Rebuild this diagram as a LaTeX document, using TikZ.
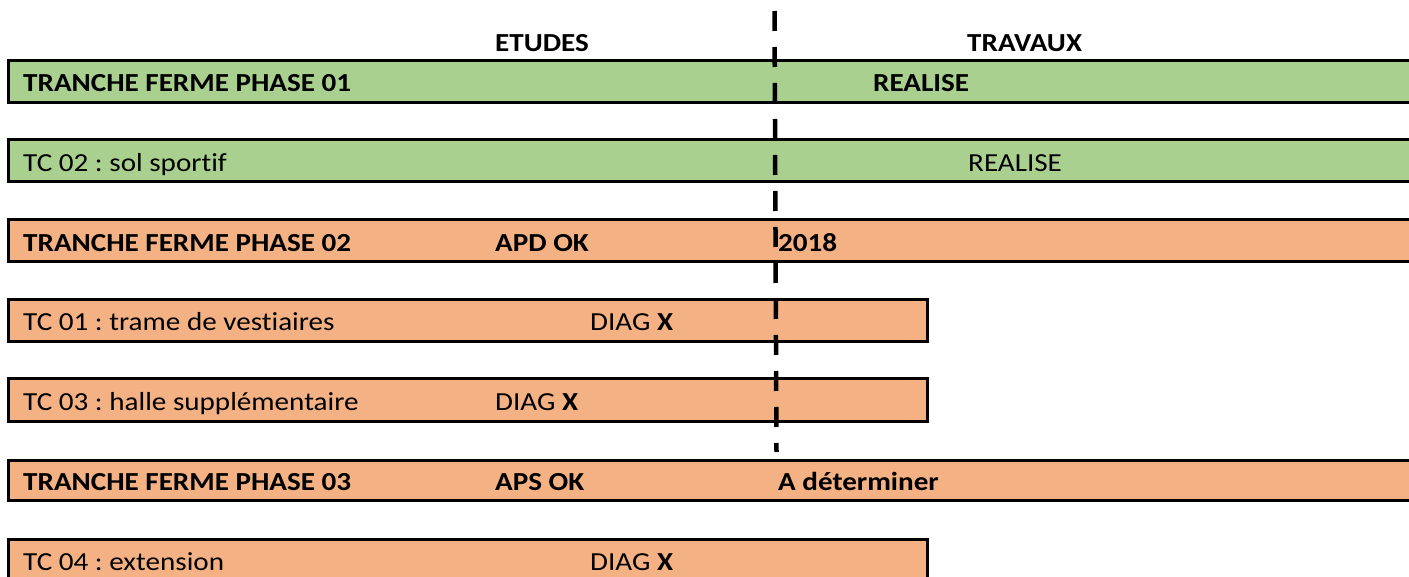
\documentclass[tikz,border=0pt]{standalone}
\usepackage{fontspec}
\setmainfont[FakeStretch=1.12,Ligatures=NoCommon]{Carlito}
\definecolor{donegreen}{HTML}{A9D08E}
\definecolor{todoorange}{HTML}{F4B183}
\begin{document}
\frenchspacing
\begin{tikzpicture}[x=1pt,y=-1pt,
  bar/.style={draw=black,line width=3pt},
  lbl/.style={anchor=base west,inner sep=0pt,font=\fontsize{26}{30}\selectfont},
  blbl/.style={lbl,font=\fontsize{26}{30}\selectfont\bfseries},
  divider/.style={line width=4.5pt,dash pattern=on 20pt off 16pt}]
\useasboundingbox (0,0) rectangle (1409,577);
\clip (0,0) rectangle (1409,577);

% column headers
\node[blbl] (etudes) at (495,52) {ETUDES};
\node[blbl] (travaux) at (967,52) {TRAVAUX};

% tranche ferme phase 01
\path[bar,fill=donegreen] (8,61) rectangle (1425,103);
\node[blbl] (p1) at (23,92) {TRANCHE FERME PHASE 01};
\node[blbl] (p1t) at (873,92) {REALISE};

% TC 02
\path[bar,fill=donegreen] (8,140) rectangle (1425,182);
\node[lbl] (tc2) at (23,172) {TC 02 : sol sportif};
\node[lbl] (tc2t) at (968,172) {REALISE};

% tranche ferme phase 02
\path[bar,fill=todoorange] (8,220) rectangle (1425,262);
\node[blbl] (p2) at (23,252) {TRANCHE FERME PHASE 02};
\node[blbl] (p2e) at (495,252) {APD OK};
\node[blbl] (p2t) at (778,252) {2018};

% TC 01
\path[bar,fill=todoorange] (8,300) rectangle (927,342);
\node[lbl] (tc1) at (23,331) {TC 01 : trame de vestiaires};
\node[lbl] (tc1e) at (590,331) {DIAG \textbf{X}};

% TC 03
\path[bar,fill=todoorange] (8,379) rectangle (927,421);
\node[lbl] (tc3) at (23,410) {TC 03 : halle supplémentaire};
\node[lbl] (tc3e) at (495,410) {DIAG \textbf{X}};

% tranche ferme phase 03
\path[bar,fill=todoorange] (8,460) rectangle (1425,500);
\node[blbl] (p3) at (23,490) {TRANCHE FERME PHASE 03};
\node[blbl] (p3e) at (495,490) {APS OK};
\node[blbl] (p3t) at (778,490) {A déterminer};

% TC 04
\path[bar,fill=todoorange] (8,539) rectangle (927,600);
\node[lbl] (tc4) at (23,570) {TC 04 : extension};
\node[lbl] (tc4e) at (590,570) {DIAG \textbf{X}};

% studies / works divider
\coordinate (dtop) at (774.5,11);
\coordinate (dbot) at (776.5,452);
\draw[divider] (dtop) -- (dbot);
\end{tikzpicture}
\end{document}
